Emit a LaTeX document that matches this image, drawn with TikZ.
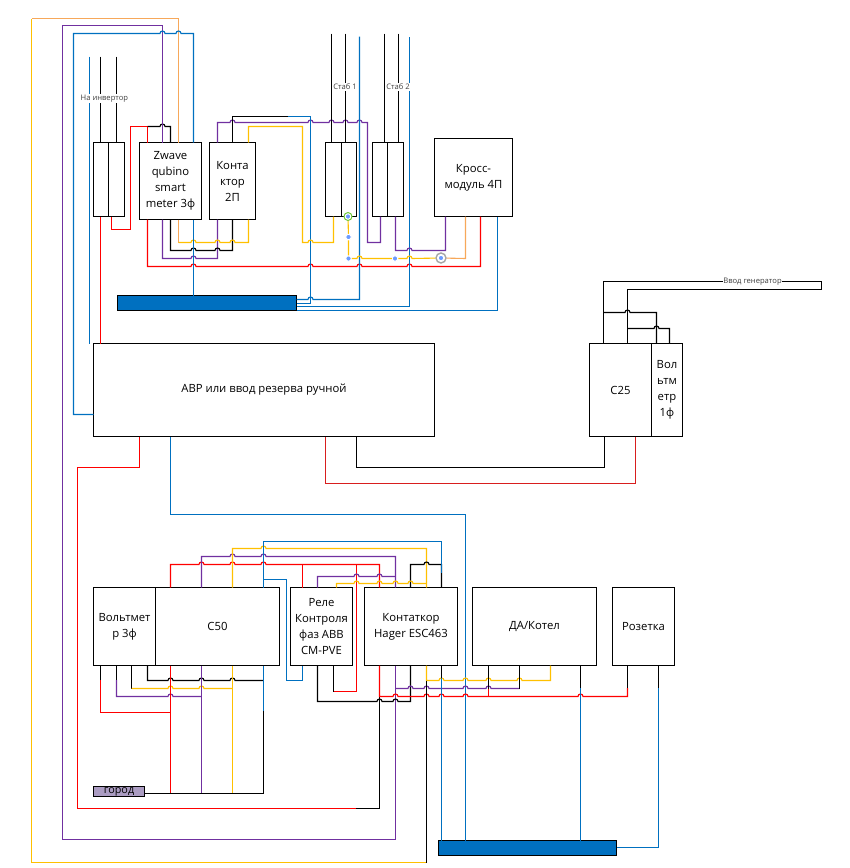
\documentclass[tikz,border=0pt]{standalone}
\usepackage{fontspec}
\setmainfont{Open Sans}
\definecolor{wirered}{HTML}{FF0000}
\definecolor{wireblue}{HTML}{0070C0}
\definecolor{wirepurple}{HTML}{7030A0}
\definecolor{wireyellow}{HTML}{FFC000}
\definecolor{wireorange}{HTML}{F7A85A}
\definecolor{wiredark}{HTML}{D81E1E}
\definecolor{cityfill}{HTML}{AB9CC2}
\definecolor{dotblue}{HTML}{6C9BFF}
\def\hop#1#2{-- ({#1-2.5},#2) arc (180:360:2.5)}
\tikzset{
	box/.style={draw=black,line width=1.2pt,inner sep=0pt,outer sep=0pt,align=center,anchor=north west,font=\fontsize{11.3}{16}\selectfont},
	bus/.style={box,fill=wireblue},
	wire/.style={line width=1.1pt},
	blackw/.style={wire,black},
	redw/.style={wire,wirered},
	bluew/.style={wire,wireblue},
	purplew/.style={wire,wirepurple},
	yelloww/.style={wire,wireyellow},
	orangew/.style={wire,wireorange},
	tag/.style={fill=white,inner sep=0.6pt,text=black!75,font=\fontsize{7.6}{8}\selectfont},
	blob/.style={circle,fill=dotblue,draw=white,line width=1pt,inner sep=0pt,minimum size=5.5pt},
	ring/.style={circle,fill=white,line width=1.4pt,inner sep=0pt},
}

\begin{document}
\begin{tikzpicture}[x=1pt,y=-1pt]
			%%%%% START %%%%%
			\useasboundingbox (0,0) rectangle (850,868);
			
			\node[box,minimum width=15,minimum height=74] (inva) at (93.5,142.5) {};
			\node[box,minimum width=16,minimum height=74] (invb) at (108.5,142.5) {};
			\node[box,minimum width=62,minimum height=77] (zwave) at (139.5,142.5) {Zwave\\qubino\\smart\\meter 3ф};
			\node[box,minimum width=46,minimum height=77] (kontaktor) at (209.5,142.5) {Конта\\ктор\\2П};
			\node[box,minimum width=16,minimum height=74] (stabaa) at (325.5,142.5) {};
			\node[box,minimum width=15,minimum height=74] (stabab) at (341.5,142.5) {};
			\node[box,minimum width=15,minimum height=74] (stabba) at (372.5,142.5) {};
			\node[box,minimum width=16,minimum height=74] (stabbb) at (387.5,142.5) {};
			\node[box,minimum width=78,minimum height=78] (kross) at (434.5,138.5) {Кросс-\\модуль 4П};
			\node[bus,minimum width=179,minimum height=15] (busup) at (117.5,295.5) {};
			
			\node[box,minimum width=341,minimum height=93] (avr) at (93.5,343.5) {АВР или ввод резерва ручной};
			\node[box,minimum width=62,minimum height=93] (cquarter) at (589.5,343.5) {C25};
			\node[box,minimum width=31,minimum height=93] (voltone) at (651.5,343.5) {Вол\\ьтм\\етр\\1ф};
			
			\node[box,minimum width=62,minimum height=78] (voltthree) at (93.5,587.5) {Вольтмет\\р 3ф};
			\node[box,minimum width=124,minimum height=78] (cfifty) at (155.5,587.5) {C50};
			\node[box,minimum width=62,minimum height=78] (rele) at (290.5,587.5) {Реле\\Контроля\\фаз ABB\\CM-PVE};
			\node[box,minimum width=93,minimum height=78] (hager) at (364.5,587.5) {Контаткор\\Hager ESC463};
			\node[box,minimum width=124,minimum height=78] (kotel) at (472.5,587.5) {ДА/Котел};
			\node[box,minimum width=62,minimum height=78] (socket) at (612.5,587.5) {Розетка};
			\node[bus,minimum width=178,minimum height=15] (busdown) at (438.5,840.5) {};
			\node[box,fill=cityfill,minimum width=51,minimum height=10,text height=6pt,text depth=2pt,font=\fontsize{10.8}{10}\selectfont] (city) at (93.5,786.5) {город};
			
			\node[ring,draw=green!45!olive!80,minimum size=7.5pt] (ringgreen) at (348,216.5) {};
			\node[ring,draw=black!35,minimum size=10pt] (ringgrey) at (441,258) {};
			\node[blob] (blobgreen) at (348,216.5) {};
			\node[blob] (blobgrey) at (441,258) {};
			\node[blob] (bloba) at (348.5,237) {};
			\node[blob] (blobb) at (348.5,258.5) {};
			\node[blob] (blobc) at (395,258.5) {};
			
			\draw[blackw] (100.5,56.5) -- (100.5,0 |- inva.north);
			\draw[blackw] (116.5,56.5) -- (116.5,0 |- invb.north);
			\draw[bluew] (89.5,56.5) -- (89.5,0 |- avr.north);
			\draw[redw] (100.5,0 |- inva.south) -- (100.5,0 |- avr.north);
			\draw[redw] (111.5,0 |- invb.south) -- (111.5,229.5) -- (130.5,229.5) -- (130.5,126.5) -- (147.5,126.5) -- (147.5,0 |- zwave.north);
			\draw[blackw] (147.5,126.5) \hop{162.5}{126.5} -- (170.5,126.5) -- (170.5,0 |- zwave.north);
			
			\draw[yelloww] (426.5,862.5) -- (31.5,862.5) -- (31.5,18.5);
			\draw[orangew] (31.5,18.5) -- (178.5,18.5) -- (178.5,0 |- zwave.north);
			\draw[purplew] (395.5,0 |- hager.south) -- (395.5,839.5) -- (62.5,839.5) -- (62.5,25.5) -- (162.5,25.5) -- (162.5,0 |- zwave.north);
			\draw[bluew] (avr.west |- 0,414.5) -- (73.5,414.5) -- (73.5,33.5) \hop{162.5}{33.5} \hop{178.5}{33.5} -- (193.5,33.5) -- (193.5,0 |- zwave.north);
			
			\draw[redw] (147.5,0 |- zwave.south) -- (147.5,266.5) \hop{193.5}{266.5} \hop{310.5}{266.5} \hop{359.5}{266.5} \hop{409.5}{266.5} -- (480.5,266.5) -- (480.5,0 |- kross.south);
			\draw[purplew] (162.5,0 |- zwave.south) -- (162.5,258.5) \hop{193.5}{258.5} -- (217.5,258.5) -- (217.5,0 |- kontaktor.south);
			\draw[blackw] (170.5,0 |- zwave.south) -- (170.5,250.5) \hop{193.5}{250.5} \hop{217.5}{250.5} -- (232.5,250.5) -- (232.5,0 |- kontaktor.south);
			\draw[orangew] (178.5,0 |- zwave.south) -- (178.5,242.5);
			\draw[yelloww] (178.5,242.5) \hop{193.5}{242.5} \hop{217.5}{242.5} \hop{232.5}{242.5} -- (248.5,242.5) -- (248.5,0 |- kontaktor.south);
			\draw[bluew] (193.5,0 |- zwave.south) -- (193.5,0 |- busup.north);
			
			\draw[purplew] (217.5,0 |- kontaktor.north) -- (217.5,122.5) \hop{232.5}{122.5} \hop{310.5}{122.5} \hop{331.5}{122.5} \hop{345.5}{122.5} \hop{359.5}{122.5} -- (367.5,122.5) -- (367.5,242.5) -- (380.5,242.5) -- (380.5,0 |- stabbb.south);
			\draw[blackw] (232.5,0 |- kontaktor.north) -- (232.5,116.5) -- (287.5,116.5);
			\draw[bluew] (busup.east |- 0,303.5) -- (310.5,303.5) -- (310.5,116.5) -- (287.5,116.5);
			\draw[yelloww] (248.5,0 |- kontaktor.north) -- (248.5,126.5) -- (302.5,126.5) -- (302.5,242.5) \hop{310.5}{242.5} -- (333.5,242.5) -- (333.5,0 |- stabaa.south);
			
			\draw[blackw] (331.5,33.5) -- (331.5,0 |- stabaa.north);
			\draw[blackw] (345.5,33.5) -- (345.5,0 |- stabab.north);
			\draw[blackw] (384.5,33.5) -- (384.5,0 |- stabba.north);
			\draw[blackw] (398.5,33.5) -- (398.5,0 |- stabbb.north);
			\draw[bluew] (busup.east |- 0,299.5) \hop{310.5}{299.5} -- (359.5,299.5) -- (359.5,36.5);
			\draw[bluew] (busup.east |- 0,306.5) -- (409.5,306.5) -- (409.5,36.5);
			\draw[bluew] (busup.east |- 0,310.5) -- (497.5,310.5) -- (497.5,0 |- kross.south);
			
			\draw[yelloww] (ringgreen) -- (bloba) -- (blobb) \hop{359.5}{258.5} -- (blobc) \hop{409.5}{258.5} -- (ringgrey);
			\draw[orangew] (ringgrey) -- (465.5,258.5) -- (465.5,0 |- kross.south);
			\draw[purplew] (395.5,0 |- stabbb.south) -- (395.5,250.5) \hop{409.5}{250.5} -- (445.5,250.5) -- (445.5,0 |- kross.south);
			
			\draw[blackw] (603.5,0 |- cquarter.north) -- (603.5,281.5) -- (821.5,281.5) -- (821.5,289.5) -- (627.5,289.5) -- (627.5,0 |- cquarter.north);
			\draw[blackw] (603.5,312.5) \hop{627.5}{312.5} -- (656.5,312.5) -- (656.5,0 |- voltone.north);
			\draw[blackw] (627.5,328.5) \hop{656.5}{328.5} -- (669.5,328.5) -- (669.5,0 |- voltone.north);
			\draw[blackw] (604.5,0 |- cquarter.south) -- (604.5,467.5) -- (356.5,467.5) -- (356.5,0 |- avr.south);
			\draw[wire,wiredark] (635.5,0 |- cquarter.south) -- (635.5,483.5) -- (325.5,483.5) -- (325.5,0 |- avr.south);
			
			\draw[redw] (139.5,0 |- avr.south) -- (139.5,467.5) -- (77.5,467.5) -- (77.5,808.5) -- (356,808.5);
			\draw[blackw] (356,808.5) -- (379.5,808.5) -- (379.5,696.5);
			\draw[bluew] (170.5,0 |- avr.south) -- (170.5,514.5) -- (465.5,514.5) -- (465.5,0 |- busdown.north);
			
			\draw[redw] (170.5,0 |- cfifty.north) -- (170.5,564.5) \hop{201.5}{564.5} \hop{232.5}{564.5} \hop{263.5}{564.5} -- (379.5,564.5) -- (379.5,0 |- hager.north);
			\draw[redw] (302.5,564.5) -- (302.5,0 |- rele.north);
			\draw[redw] (333.5,691.5) -- (356.5,691.5) -- (356.5,564.5);
			\draw[blackw] (333.5,0 |- rele.south) -- (333.5,691.5);
			\draw[purplew] (201.5,0 |- cfifty.north) -- (201.5,556.5) \hop{232.5}{556.5} \hop{263.5}{556.5} -- (395.5,556.5) -- (395.5,0 |- hager.north);
			\draw[yelloww] (232.5,0 |- cfifty.north) -- (232.5,548.5) \hop{263.5}{548.5} -- (426.5,548.5) -- (426.5,0 |- hager.north);
			\draw[blackw] (410.5,0 |- hager.north) -- (410.5,564.5) \hop{426.5}{564.5} -- (441.5,564.5) -- (441.5,0 |- hager.north);
			\draw[bluew] (263.5,0 |- cfifty.north) -- (263.5,541.5) -- (441.5,541.5) -- (441.5,573);
			\draw[bluew] (263.5,579.5) -- (286.5,579.5) -- (286.5,680.5) -- (302.5,680.5) -- (302.5,0 |- rele.south);
			\draw[purplew] (317.5,0 |- rele.north) -- (317.5,576.5) \hop{356.5}{576.5} \hop{379.5}{576.5} -- (395.5,576.5);
			\draw[yelloww] (336.5,0 |- rele.north) -- (336.5,583.5) \hop{356.5}{583.5} \hop{379.5}{583.5} \hop{395.5}{583.5} \hop{410.5}{583.5} -- (426.5,583.5);
			
			\draw[blackw] (317.5,0 |- rele.south) -- (317.5,701.5) \hop{379.5}{701.5} \hop{395.5}{701.5} -- (410.5,701.5) -- (410.5,0 |- hager.south);
			\draw[redw] (379.5,0 |- hager.south) -- (379.5,696.5) \hop{395.5}{696.5} \hop{426.5}{696.5} \hop{441.5}{696.5} \hop{465.5}{696.5} \hop{580.5}{696.5} -- (627.5,696.5) -- (627.5,688);
			\draw[purplew] (395.5,688.5) \hop{410.5}{688.5} \hop{426.5}{688.5} \hop{465.5}{688.5} \hop{488.5}{688.5} -- (519.5,688.5);
			\draw[yelloww] (426.5,0 |- hager.south) -- (426.5,680.5) \hop{441.5}{680.5} \hop{465.5}{680.5} \hop{488.5}{680.5} \hop{519.5}{680.5} -- (550.5,680.5) -- (550.5,0 |- kotel.south);
			\draw[blackw] (426.5,680.5) -- (426.5,862.5);
			\draw[blackw] (441.5,0 |- hager.south) -- (441.5,678);
			\draw[bluew] (441.5,678) -- (441.5,0 |- busdown.north);
			\draw[blackw] (488.5,0 |- kotel.south) -- (488.5,688.5);
			\draw[redw] (488.5,689) -- (488.5,696.5);
			\draw[blackw] (519.5,0 |- kotel.south) -- (519.5,688.5);
			\draw[blackw] (580.5,0 |- kotel.south) -- (580.5,688);
			\draw[bluew] (580.5,688) -- (580.5,0 |- busdown.north);
			\draw[blackw] (627.5,0 |- socket.south) -- (627.5,688);
			\draw[blackw] (658.5,0 |- socket.south) -- (658.5,688);
			\draw[bluew] (658.5,688) -- (658.5,847.5) -- (busdown.east |- 0,847.5);
			
			\draw[blackw] (100.5,0 |- voltthree.south) -- (100.5,680);
			\draw[redw] (100.5,680) -- (100.5,712.5) -- (170.5,712.5);
			\draw[blackw] (116.5,0 |- voltthree.south) -- (116.5,680);
			\draw[purplew] (116.5,680) -- (116.5,696.5) \hop{170.5}{696.5} -- (201.5,696.5);
			\draw[blackw] (131.5,0 |- voltthree.south) -- (131.5,688.5);
			\draw[yelloww] (131.5,688.5) \hop{170.5}{688.5} \hop{201.5}{688.5} -- (232.5,688.5);
			\draw[blackw] (147.5,0 |- voltthree.south) -- (147.5,680.5) \hop{170.5}{680.5} \hop{201.5}{680.5} \hop{232.5}{680.5} -- (263.5,680.5);
			\draw[redw] (170.5,0 |- cfifty.south) -- (170.5,793.5);
			\draw[purplew] (201.5,0 |- cfifty.south) -- (201.5,793.5);
			\draw[yelloww] (232.5,0 |- cfifty.south) -- (232.5,793.5);
			\draw[bluew] (263.5,0 |- cfifty.south) -- (263.5,711);
			\draw[blackw] (263.5,711) -- (263.5,793.5) -- (city.east |- 0,793.5);
			
			\node[tag] (taginv) at (104.4,98.5) {На инвертор};
			\node[tag] (tagstaba) at (345,87) {Стаб 1};
			\node[tag] (tagstabb) at (398,87) {Стаб 2};
			\node[tag] (taggen) at (752.5,281.5) {Ввод генератор};
			%%%%% END %%%%%
\end{tikzpicture}
\end{document}
